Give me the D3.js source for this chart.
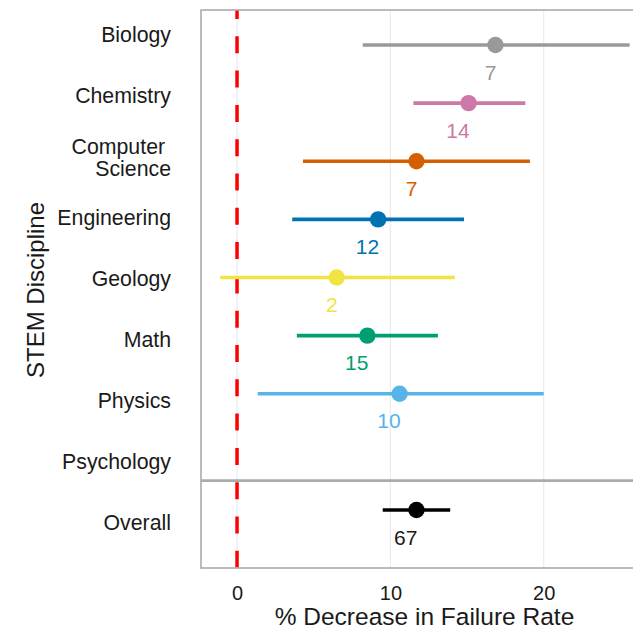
<!DOCTYPE html>
<html>
<head>
<meta charset="utf-8">
<script src="https://cdn.jsdelivr.net/npm/d3@7"></script>
<style>
  html, body { margin: 0; padding: 0; background: #ffffff; }
  svg { display: block; font-family: "Liberation Sans", Arial, sans-serif; }
</style>
</head>
<body>
<svg id="chart" width="633" height="630"></svg>
<script>
// Forest plot: % decrease in failure rate by STEM discipline (estimate + 95% CI)
const categories = ["Biology", "Chemistry", "Computer Science", "Engineering",
                    "Geology", "Math", "Physics", "Psychology", "Overall"];
const estimates  = [16.85, 15.1, 11.7, 9.2, 6.5, 8.5, 10.6, null, 11.7];
const lowerCI    = [8.2, 11.5, 4.3, 3.6, -1.1, 3.9, 1.35, null, 9.5];
const upperCI    = [25.6, 18.8, 19.1, 14.8, 14.2, 13.1, 20.0, null, 13.9];
const nStudies   = [7, 14, 7, 12, 2, 15, 10, null, 67];
const colors     = ["#999999", "#CC79A7", "#D55E00", "#0072B2", "#F0E442",
                    "#009E73", "#56B4E9", "#999999", "#000000"];
const xTicks     = [0, 10, 20];

const rows = categories.map((c, i) => ({
  cat: c, est: estimates[i], lo: lowerCI[i], hi: upperCI[i], n: nStudies[i], color: colors[i]
}));

const svg = d3.select("#chart");
const panel = { left: 201, right: 648, top: 10, split: 480.7, bottom: 568 };

const x = d3.scaleLinear().domain([-2.35, 26.8]).range([panel.left, panel.right]);
// row positions for marks and for the discipline labels
const yMark  = d3.scalePoint().domain(categories).range([45, 510]);
const yLabel = d3.scalePoint().domain(categories).range([35, 523]);

svg.append("defs").append("clipPath").attr("id", "panelClip")
  .append("rect")
  .attr("x", panel.left).attr("y", panel.top)
  .attr("width", panel.right - panel.left).attr("height", panel.bottom - panel.top);

// vertical grid lines
svg.append("g").selectAll("line").data(xTicks).join("line")
  .attr("x1", d => x(d)).attr("x2", d => x(d))
  .attr("y1", panel.top).attr("y2", panel.bottom)
  .attr("stroke", "#ebebeb").attr("stroke-width", 1.2);

// reference line at zero
svg.append("line")
  .attr("x1", x(0)).attr("x2", x(0))
  .attr("y1", panel.top).attr("y2", panel.bottom)
  .attr("stroke", "#ff0000").attr("stroke-width", 3.5)
  .attr("stroke-dasharray", "17 17.3").attr("stroke-dashoffset", 8);

const data = rows.filter(d => d.est != null);
const marks = svg.append("g").attr("clip-path", "url(#panelClip)");

marks.selectAll("line.ci").data(data).join("line")
  .attr("class", "ci")
  .attr("x1", d => x(d.lo)).attr("x2", d => x(d.hi))
  .attr("y1", d => yMark(d.cat)).attr("y2", d => yMark(d.cat))
  .attr("stroke", d => d.color).attr("stroke-width", 3.6);

marks.selectAll("circle").data(data).join("circle")
  .attr("cx", d => x(d.est)).attr("cy", d => yMark(d.cat))
  .attr("r", 8.2).attr("fill", d => d.color);

// number of studies under each estimate
svg.append("g").selectAll("text").data(data).join("text")
  .attr("x", d => x(d.est) + 1).attr("y", d => yMark(d.cat) + 34.5)
  .attr("text-anchor", "end")
  .attr("font-size", 21)
  .attr("fill", d => d.cat === "Overall" ? "#1a1a1a" : d.color)
  .text(d => d.n);

// panel borders and the divider above the overall estimate
const border = svg.append("g").attr("fill", "none").attr("stroke", "#ababab");
border.append("rect")
  .attr("x", panel.left).attr("y", panel.top)
  .attr("width", panel.right - panel.left).attr("height", panel.bottom - panel.top)
  .attr("stroke-width", 1.6);
border.append("line")
  .attr("x1", panel.left).attr("x2", panel.right)
  .attr("y1", panel.split).attr("y2", panel.split)
  .attr("stroke-width", 2.8);

// x axis
const xAxis = svg.append("g")
  .attr("transform", `translate(0,${panel.bottom})`)
  .call(d3.axisBottom(x).tickValues(xTicks).tickSize(0).tickPadding(18).tickFormat(d3.format("d")));
xAxis.select(".domain").remove();
xAxis.selectAll("text").attr("font-size", 20).attr("fill", "#1a1a1a")
  .attr("font-family", "'Liberation Sans', Arial, sans-serif");

// y axis with discipline names
const yAxis = svg.append("g")
  .attr("transform", `translate(${panel.left},0)`)
  .call(d3.axisLeft(yLabel).tickSize(0).tickPadding(30));
yAxis.select(".domain").remove();
yAxis.selectAll("text")
  .attr("font-size", 21.3).attr("fill", "#1a1a1a")
  .attr("font-family", "'Liberation Sans', Arial, sans-serif")
  .each(function (d) {
    if (d === "Computer Science") {
      const t = d3.select(this).text(null).attr("dy", null);
      t.append("tspan").attr("x", -30).attr("dy", "-0.17em")
        .style("white-space", "pre").text("Computer ");
      t.append("tspan").attr("x", -30).attr("dy", "1.05em").text("Science");
    }
  });

// axis titles
svg.append("text")
  .attr("x", (panel.left + panel.right) / 2).attr("y", 625)
  .attr("text-anchor", "middle").attr("font-size", 24.5).attr("fill", "#1a1a1a")
  .text("% Decrease in Failure Rate");

svg.append("text")
  .attr("transform", "translate(35,290) rotate(-90)")
  .attr("dy", "0.36em")
  .attr("text-anchor", "middle").attr("font-size", 24).attr("fill", "#1a1a1a")
  .text("STEM Discipline");
</script>
</body>
</html>
